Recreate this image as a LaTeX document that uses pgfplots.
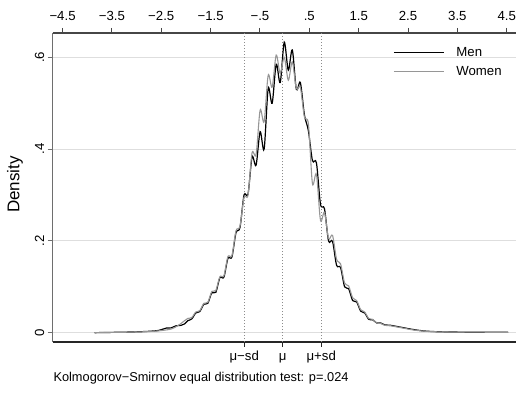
\documentclass[border=0pt]{standalone}
\usepackage{fontspec}
\setmainfont{Liberation Sans}
\usepackage{pgfplots}
\pgfplotsset{compat=1.18}

\definecolor{womenline}{RGB}{150,150,150}
\definecolor{gridgray}{RGB}{222,222,222}
\definecolor{yaxisgray}{RGB}{110,110,110}
\definecolor{topaxis}{RGB}{70,70,70}
\definecolor{refdots}{RGB}{140,140,140}

\newcommand\tickfont{\fontsize{13.2bp}{15bp}\selectfont}
\newcommand\titlefont{\fontsize{17bp}{20bp}\selectfont}
\newcommand\notefont{\fontsize{12.8bp}{15bp}\selectfont}

% kernel density estimates by sex
\pgfplotstableread{
x y
-3.850 0.0000
-3.600 0.0005
-3.300 0.0010
-3.000 0.0018
-2.750 0.0030
-2.550 0.0050
-2.400 0.0100
-2.300 0.0105
-2.200 0.0150
-2.100 0.0160
-2.030 0.0190
-1.964 0.026
-1.882 0.030
-1.801 0.043
-1.720 0.046
-1.638 0.062
-1.557 0.064
-1.475 0.087
-1.394 0.088
-1.312 0.120
-1.231 0.121
-1.149 0.162
-1.068 0.165
-0.986 0.218
-0.905 0.229
-0.823 0.300
-0.742 0.302
-0.660 0.383
-0.579 0.365
-0.497 0.438
-0.416 0.400
-0.334 0.532
-0.253 0.500
-0.171 0.585
-0.090 0.545
-0.008 0.633
0.074 0.572
0.155 0.616
0.237 0.530
0.318 0.545
0.400 0.475
0.481 0.440
0.563 0.375
0.644 0.370
0.726 0.280
0.807 0.270
0.889 0.200
0.970 0.199
1.052 0.147
1.133 0.142
1.215 0.100
1.296 0.096
1.378 0.070
1.459 0.067
1.541 0.047
1.622 0.043
1.704 0.029
1.785 0.028
1.867 0.021
1.948 0.021
2.030 0.017
2.150 0.016
2.300 0.013
2.450 0.010
2.600 0.007
2.800 0.004
3.000 0.0025
3.300 0.0015
3.600 0.0012
3.900 0.0010
4.200 0.0010
4.530 0.0008
}\men

\pgfplotstableread{
x y
-3.850 0.0000
-3.600 0.0004
-3.300 0.0009
-3.000 0.0015
-2.750 0.0025
-2.550 0.0040
-2.400 0.0060
-2.300 0.0080
-2.200 0.0130
-2.100 0.0200
-2.030 0.0260
-1.964 0.031
-1.882 0.033
-1.801 0.045
-1.720 0.048
-1.638 0.064
-1.557 0.066
-1.475 0.090
-1.394 0.092
-1.312 0.122
-1.231 0.124
-1.149 0.166
-1.068 0.168
-0.986 0.222
-0.905 0.232
-0.823 0.295
-0.742 0.300
-0.660 0.392
-0.579 0.388
-0.497 0.485
-0.416 0.460
-0.334 0.561
-0.253 0.535
-0.171 0.605
-0.090 0.565
-0.008 0.600
0.074 0.550
0.155 0.590
0.237 0.532
0.318 0.535
0.400 0.470
0.481 0.455
0.563 0.325
0.644 0.345
0.726 0.245
0.807 0.262
0.889 0.205
0.970 0.212
1.052 0.160
1.133 0.150
1.215 0.108
1.296 0.102
1.378 0.076
1.459 0.070
1.541 0.050
1.622 0.045
1.704 0.031
1.785 0.029
1.867 0.021
1.948 0.020
2.030 0.016
2.150 0.015
2.300 0.012
2.450 0.009
2.600 0.006
2.800 0.0035
3.000 0.0022
3.300 0.0014
3.600 0.0012
3.900 0.0011
4.200 0.0010
4.530 0.0008
}\women

\begin{document}
\begin{tikzpicture}
\path[use as bounding box] (0,0) rectangle (516bp,394bp);

% upper scale: standardized values
\begin{axis}[
  at={(52.7bp,52bp)}, anchor=south west,
  scale only axis, width=463.9bp, height=309bp,
  xmin=-4.70, xmax=4.70, ymin=-0.0203, ymax=0.653,
  axis x line*=top, axis y line=none,
  x axis line style={topaxis, line width=1.1bp},
  xtick={-4.5,-3.5,-2.5,-1.5,-0.5,0.5,1.5,2.5,3.5,4.5},
  xticklabels={−4.5,−3.5,−2.5,−1.5,−.5,.5,1.5,2.5,3.5,4.5},
  tick align=outside, major tick length=5bp,
  xtick style={topaxis, line width=1bp},
  xticklabel style={font=\tickfont, yshift=4bp},
]
\end{axis}

\begin{axis}[
  at={(52.7bp,52bp)}, anchor=south west,
  scale only axis, width=463.9bp, height=309bp,
  xmin=-4.70, xmax=4.70, ymin=-0.0203, ymax=0.653,
  axis x line*=bottom, axis y line*=left,
  x axis line style={black!85, line width=1.1bp},
  y axis line style={yaxisgray, line width=1.5bp},
  xtick={-0.819,-0.041,0.742},
  xticklabels={μ−sd,μ,μ+sd},
  ytick={0,0.2,0.4,0.6},
  yticklabels={0,.2,.4,.6},
  tick align=outside, major tick length=5bp,
  xtick style={black!85, line width=1bp},
  ytick style={yaxisgray, line width=1bp},
  xticklabel style={font=\tickfont, text height=9.5bp, text depth=3bp},
  yticklabel style={font=\tickfont, rotate=90, anchor=south},
  ymajorgrids, grid style={gridgray, line width=1bp},
  ylabel={Density},
  ylabel style={font=\titlefont, at={(axis description cs:-0.0813,0.51)}, anchor=center},
  legend style={draw=none, fill=none, inner sep=0pt,
    at={(axis description cs:0.7336,0.950)}, anchor=north west,
    row sep=11.5bp, column sep=12bp,
    nodes={inner sep=0pt, text height=7.5bp, text depth=0bp, font=\tickfont}},
  legend image code/.code={\draw[#1] (0bp,0bp) -- (50bp,0bp);},
  legend cell align=left,
]
\addplot[refdots, dotted, line width=1bp, forget plot] coordinates {(-0.819,-0.0203) (-0.819,0.653)};
\addplot[refdots, dotted, line width=1bp, forget plot] coordinates {(-0.041,-0.0203) (-0.041,0.653)};
\addplot[refdots, dotted, line width=1bp, forget plot] coordinates {(0.742,-0.0203) (0.742,0.653)};
\addplot[black, line width=1.2bp, smooth, tension=0.5] table {\men};
\addlegendentry{Men}
\addplot[womenline, line width=1.1bp, smooth, tension=0.5] table {\women};
\addlegendentry{Women}
\end{axis}

\node[anchor=base west, font=\notefont, inner sep=0pt] at (53.3bp,12.3bp)
  {Kolmogorov−Smirnov equal distribution test: p=.024};
\end{tikzpicture}
\end{document}
